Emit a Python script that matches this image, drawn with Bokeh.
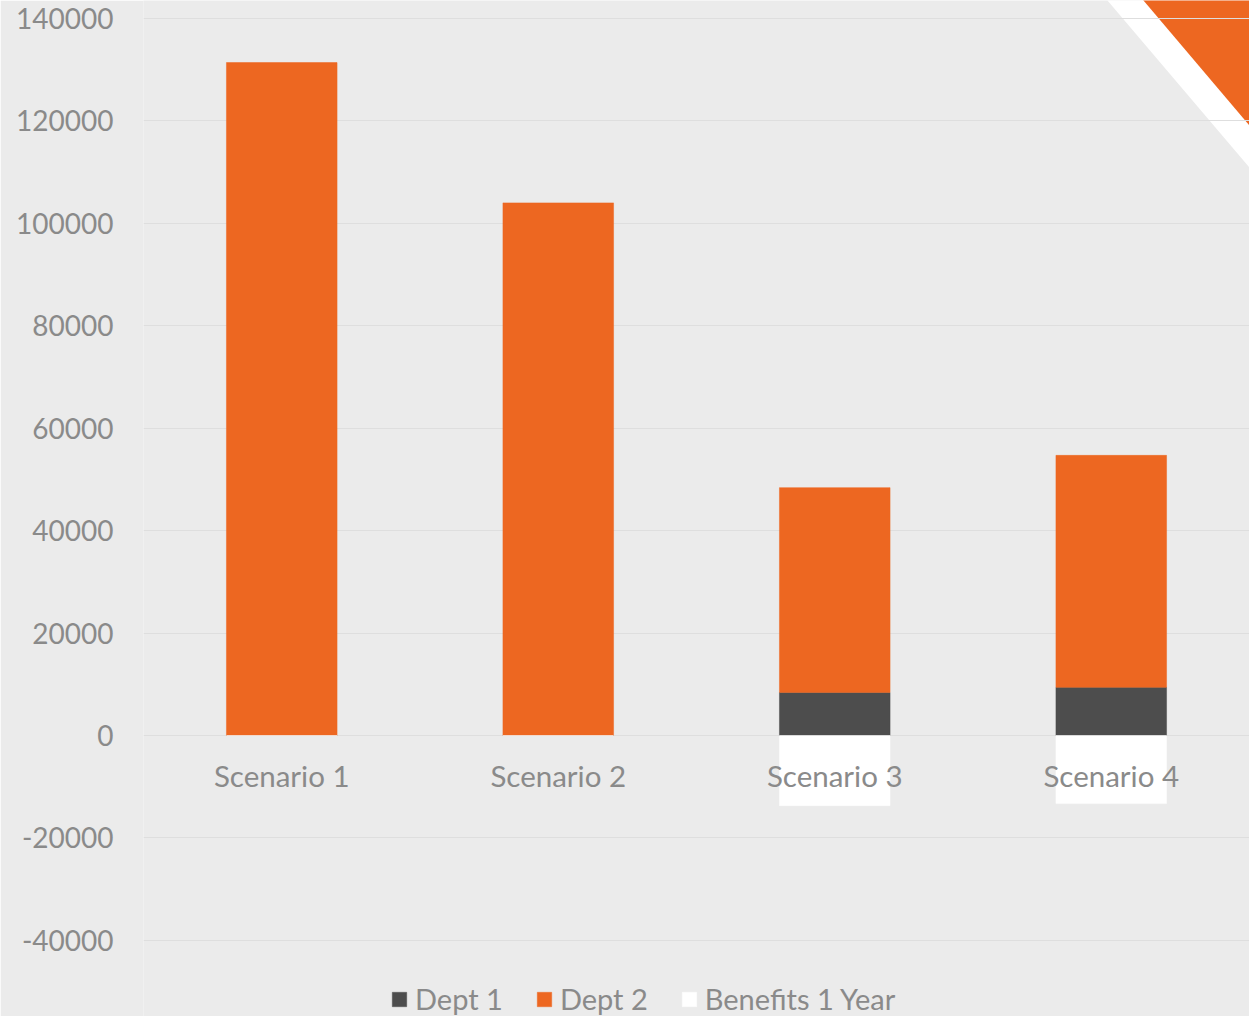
from bokeh.plotting import figure
from bokeh.models import ColumnDataSource, Range1d, FixedTicker, Legend, LegendItem, PrintfTickFormatter
from bokeh.core.properties import value
from bokeh.embed import file_html
from bokeh.resources import INLINE

# ---- data ----
scenarios = ["Scenario 1", "Scenario 2", "Scenario 3", "Scenario 4"]
dept1 = [0, 0, 8400, 9400]
dept2 = [131400, 104000, 40000, 45300]
benefits = [0, 0, -13700, -13300]
y_ticks = [-40000, -20000, 0, 20000, 40000, 60000, 80000, 100000, 120000, 140000]

ORANGE = "#ED6721"
DARK = "#4D4D4D"
BG = "#EBEBEB"
GRID = "#DEDEDE"
TXT = "#8A8A8A"
FONT = "Lato"

W, H = 1249, 1016
LEFT = 143

src = ColumnDataSource(dict(x=scenarios, dept1=dept1, dept2=dept2, benefits=benefits,
                            zero=[0] * len(scenarios)))

p = figure(x_range=scenarios, y_range=Range1d(-54868, 143516), width=W, height=H,
           output_backend="svg", toolbar_location=None,
           min_border_left=LEFT, min_border_right=0, min_border_top=0, min_border_bottom=0)
p.background_fill_color = BG
p.border_fill_color = BG
p.outline_line_color = None

# ---- corner decoration (screen-pixel helper -> data coords) ----
fx0, fx1 = float(LEFT), float(W)  # frame left/right
def sx2x(sx):
    return (sx - fx0) / (fx1 - fx0) * len(scenarios)
def sy2y(sy):
    return (735.0 - sy) * 195.26

def band(x_top, slope, y_far):
    xs = [x_top - 50 * slope, 1500, 1500, x_top + y_far * slope]
    ys = [-50, -50, y_far, y_far]
    return [sx2x(v) for v in xs], [sy2y(v) for v in ys]

wx, wy = band(1107, 0.850, 300)
ox, oy = band(1143, 0.848, 250)
r1 = p.patch(wx, wy, fill_color="white", line_color=None)
r2 = p.patch(ox, oy, fill_color=ORANGE, line_color=None)
r1.level = "image"
r2.level = "image"

# ---- bars ----
bars = p.vbar_stack(["dept1", "dept2"], x="x", width=0.4, source=src,
                    fill_color=[DARK, ORANGE], line_color=[DARK, ORANGE], line_width=0.5)
rb = p.vbar(x="x", top="benefits", bottom="zero", width=0.4, source=src,
            fill_color="white", line_color="white", line_width=0.5)

# category labels along the zero line
p.text(x="x", y="zero", text="x", source=src, text_align="center", text_baseline="alphabetic",
       y_offset=40, text_font=value(FONT), text_font_size="29.5px", text_color=TXT)

# ---- axes / grid ----
p.xaxis.visible = False
p.xgrid.grid_line_color = None
p.ygrid.grid_line_color = GRID
p.ygrid.grid_line_width = 1
p.yaxis.ticker = FixedTicker(ticks=y_ticks)
p.yaxis.formatter = PrintfTickFormatter(format="%d")
p.yaxis.axis_line_color = None
p.yaxis.major_tick_line_color = None
p.yaxis.minor_tick_line_color = None
p.yaxis.major_label_standoff = 24
p.yaxis.major_label_text_font = FONT
p.yaxis.major_label_text_font_size = "28px"
p.yaxis.major_label_text_color = TXT

# ---- legend ----
legend = Legend(items=[LegendItem(label="Dept 1", renderers=[bars[0]]),
                       LegendItem(label="Dept 2", renderers=[bars[1]]),
                       LegendItem(label="Benefits 1 Year", renderers=[rb])],
                orientation="horizontal", location=(247, 0))
legend.background_fill_alpha = 0
legend.border_line_color = None
legend.padding = 0
legend.margin = 0
legend.spacing = 32
legend.glyph_width = 18
legend.glyph_height = 18
legend.label_standoff = 7
legend.label_text_font = FONT
legend.label_text_font_size = "29px"
legend.label_text_color = TXT
p.add_layout(legend)

open("out.html", "w").write(file_html(p, INLINE))
